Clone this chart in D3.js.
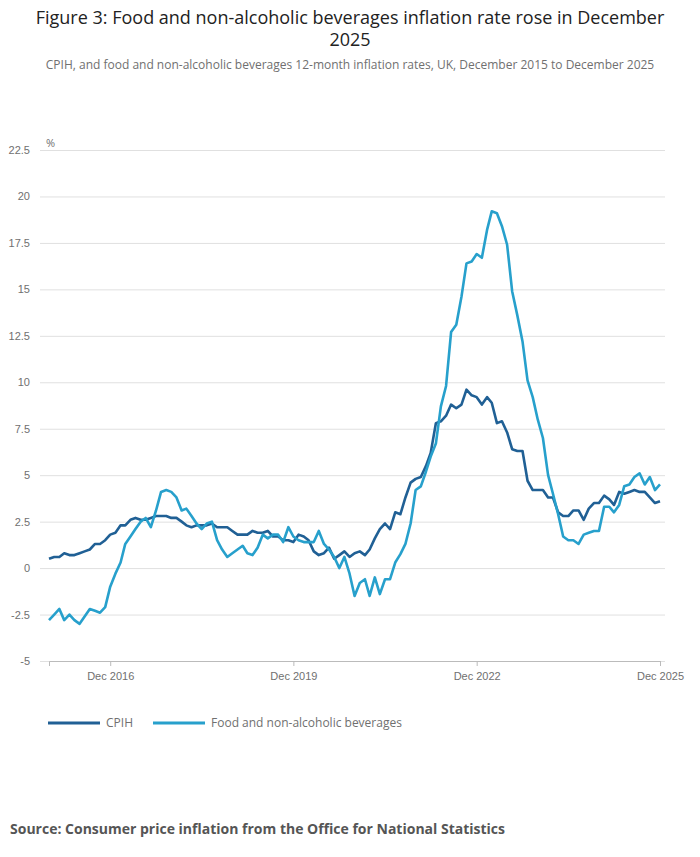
<!DOCTYPE html>
<html>
<head>
<meta charset="utf-8">
<script src="https://cdn.jsdelivr.net/npm/d3@7"></script>
<style>
  body { margin: 0; background: #fff; font-family: "Open Sans", sans-serif; }
  .grid line { stroke: #e0e0e0; }
  .tick text { fill: #707070; font-size: 11px; }
</style>
</head>
<body>
<div id="chart"></div>
<script>
var svgWidth = 700;
var svgHeight = 857;

// monthly, Dec 2015 to Dec 2025
var cpih = [0.5,
  0.6,0.6,0.8,0.7,0.7,0.8,0.9,1.0,1.3,1.3,1.5,1.8,
  1.9,2.3,2.3,2.6,2.7,2.6,2.6,2.7,2.8,2.8,2.8,2.7,
  2.7,2.5,2.3,2.2,2.3,2.3,2.3,2.4,2.2,2.2,2.2,2.0,
  1.8,1.8,1.8,2.0,1.9,1.9,2.0,1.7,1.7,1.5,1.5,1.4,
  1.8,1.7,1.5,0.9,0.7,0.8,1.1,0.5,0.7,0.9,0.6,0.8,
  0.9,0.7,1.0,1.6,2.1,2.4,2.1,3.0,2.9,3.8,4.6,4.8,
  4.9,5.5,6.2,7.8,7.9,8.2,8.8,8.6,8.8,9.6,9.3,9.2,
  8.8,9.2,8.9,7.8,7.9,7.3,6.4,6.3,6.3,4.7,4.2,4.2,
  4.2,3.8,3.8,3.0,2.8,2.8,3.1,3.1,2.6,3.2,3.5,3.5,
  3.9,3.7,3.4,4.1,4.0,4.1,4.2,4.1,4.1,3.8,3.5,3.6];

var food = [-2.8,
  -2.5,-2.2,-2.8,-2.5,-2.8,-3.0,-2.6,-2.2,-2.3,-2.4,-2.1,-1.0,
  -0.3,0.3,1.3,1.7,2.1,2.5,2.7,2.2,3.1,4.1,4.2,4.1,
  3.8,3.1,3.2,2.8,2.4,2.1,2.4,2.5,1.5,1.0,0.6,0.8,
  1.0,1.2,0.8,0.7,1.1,1.8,1.6,1.8,1.8,1.4,2.2,1.7,
  1.5,1.4,1.4,1.4,2.0,1.3,1.0,0.6,0.0,0.6,-0.3,-1.5,
  -0.8,-0.6,-1.5,-0.5,-1.4,-0.6,-0.6,0.3,0.75,1.3,2.4,4.2,
  4.4,5.2,6.0,6.7,8.7,9.8,12.7,13.1,14.6,16.4,16.5,16.9,
  16.7,18.2,19.2,19.1,18.4,17.4,14.9,13.6,12.2,10.1,9.2,8.0,
  7.0,5.0,4.0,2.9,1.7,1.5,1.5,1.3,1.8,1.9,2.0,2.0,
  3.3,3.3,3.0,3.4,4.4,4.5,4.9,5.1,4.5,4.9,4.2,4.5];

var yTicks = [-5, -2.5, 0, 2.5, 5, 7.5, 10, 12.5, 15, 17.5, 20, 22.5];
var xTickLabels = ["Dec 2016", "Dec 2019", "Dec 2022", "Dec 2025"];
var seriesNames = ["CPIH", "Food and non-alcoholic beverages"];
var colours = ["#206095", "#27a0cc"];

var parse = d3.timeParse("%b %Y");
var dates = cpih.map((d, i) => new Date(2015, 11 + i, 1));

var svg = d3.select("#chart").append("svg")
  .attr("width", svgWidth)
  .attr("height", svgHeight);

svg.append("text")
  .attr("x", 350).attr("y", 24)
  .attr("text-anchor", "middle")
  .style("font-size", "18px").style("fill", "#222")
  .text("Figure 3: Food and non-alcoholic beverages inflation rate rose in December");
svg.append("text")
  .attr("x", 350).attr("y", 46)
  .attr("text-anchor", "middle")
  .style("font-size", "18px").style("fill", "#222")
  .text("2025");
svg.append("text")
  .attr("x", 350).attr("y", 69)
  .attr("text-anchor", "middle")
  .style("font-size", "12px").style("fill", "#707070")
  .text("CPIH, and food and non-alcoholic beverages 12-month inflation rates, UK, December 2015 to December 2025");

var x = d3.scaleTime()
  .domain([dates[0], dates[dates.length - 1]])
  .range([49, 660]);
var y = d3.scaleLinear()
  .domain([-5, 22.5])
  .range([661, 150]);

// gridlines + y labels
svg.append("g")
  .attr("class", "grid")
  .attr("transform", "translate(40,0)")
  .call(d3.axisLeft(y).tickValues(yTicks).tickSize(-625).tickFormat(d => d).tickPadding(10))
  .call(g => g.select(".domain").remove())
  .call(g => g.selectAll(".tick text").attr("x", -10));

svg.append("text")
  .attr("x", 46).attr("y", 147)
  .style("font-size", "11px").style("fill", "#707070")
  .text("%");

// x axis
var xTickDates = xTickLabels.map(parse);
svg.append("g")
  .attr("transform", "translate(0,661)")
  .call(d3.axisBottom(x).tickValues(xTickDates).tickFormat(d3.timeFormat("%b %Y")).tickSize(5).tickPadding(6))
  .call(g => g.select(".domain").attr("stroke", "#bbb"))
  .call(g => g.selectAll(".tick line").attr("stroke", "#bbb"));

var line = d3.line()
  .x((d, i) => x(dates[i]))
  .y(d => y(d));

[cpih, food].forEach(function(s, i) {
  svg.append("path")
    .datum(s)
    .attr("fill", "none")
    .attr("stroke", colours[i])
    .attr("stroke-width", 2.6)
    .attr("stroke-linejoin", "round")
    .attr("d", line);
});

// legend
var legendX = [48, 153];
seriesNames.forEach(function(name, i) {
  svg.append("line")
    .attr("x1", legendX[i]).attr("x2", legendX[i] + 52)
    .attr("y1", 723).attr("y2", 723)
    .attr("stroke", colours[i]).attr("stroke-width", 3);
  svg.append("text")
    .attr("x", legendX[i] + 58).attr("y", 727)
    .style("font-size", "12px").style("fill", "#707070")
    .text(name);
});

svg.append("text")
  .attr("x", 10).attr("y", 834)
  .style("font-size", "14px").style("font-weight", "bold").style("fill", "#555")
  .text("Source: Consumer price inflation from the Office for National Statistics");
</script>
</body>
</html>
